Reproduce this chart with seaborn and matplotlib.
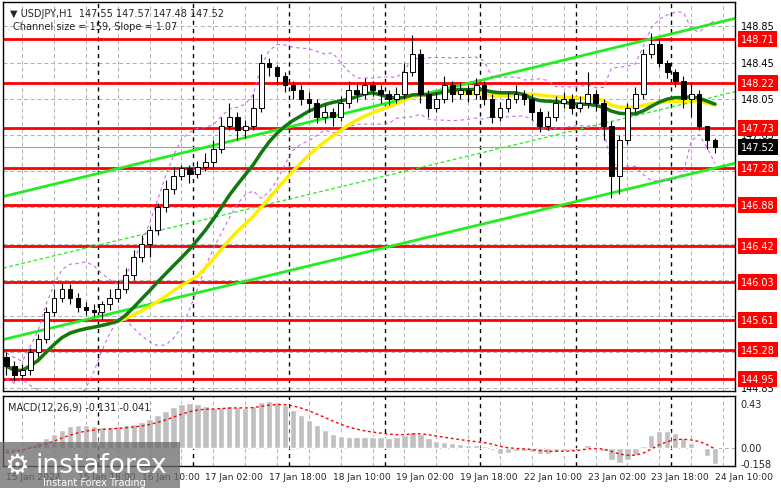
import matplotlib
matplotlib.use('Agg')
import matplotlib.pyplot as plt
import seaborn as sns
import pandas as pd
import numpy as np

# closes every 2 hours, 15 Jan 00:00 .. 24 Jan 10:00 (H1 chart read at half resolution)
closes = [145.10, 145.00, 145.05, 145.25, 145.40, 145.70, 145.85, 145.95, 145.85, 145.75,
          145.72, 145.70, 145.78, 145.85, 145.95, 146.10, 146.30, 146.45, 146.60, 146.85,
          147.05, 147.20, 147.28, 147.22, 147.30, 147.35, 147.50, 147.75, 147.85, 147.70,
          147.75, 147.95, 148.45, 148.40, 148.30, 148.20, 148.15, 148.05, 148.00, 147.85,
          147.90, 147.85, 148.00, 148.15, 148.10, 148.20, 148.15, 148.10, 148.05, 148.10,
          148.35, 148.55, 148.10, 147.95, 148.05, 148.20, 148.10, 148.15, 148.10, 148.20,
          148.05, 147.85, 147.95, 148.05, 148.10, 148.05, 147.90, 147.75, 147.85, 148.00,
          148.05, 147.95, 148.00, 148.10, 148.00, 147.75, 147.20, 147.60, 147.95, 148.10,
          148.55, 148.65, 148.45, 148.35, 148.25, 148.05, 148.10, 147.75, 147.60, 147.52]
highs = [145.25, 145.15, 145.12, 145.30, 145.45, 145.75, 145.95, 146.02, 146.00, 145.90,
         145.80, 145.78, 145.82, 145.95, 146.05, 146.18, 146.38, 146.55, 146.65, 146.90,
         147.15, 147.30, 147.32, 147.32, 147.36, 147.45, 147.60, 147.85, 148.00, 147.90,
         147.82, 148.10, 148.55, 148.50, 148.42, 148.35, 148.25, 148.20, 148.12, 148.05,
         147.98, 147.95, 148.08, 148.25, 148.22, 148.28, 148.25, 148.20, 148.15, 148.18,
         148.45, 148.76, 148.60, 148.15, 148.12, 148.30, 148.25, 148.22, 148.20, 148.28,
         148.25, 148.10, 148.02, 148.12, 148.20, 148.15, 148.10, 147.95, 147.92, 148.08,
         148.12, 148.10, 148.08, 148.35, 148.15, 148.05, 147.80, 147.65, 148.00, 148.18,
         148.60, 148.78, 148.70, 148.48, 148.38, 148.30, 148.22, 148.15, 147.70, 147.62]
lows = [145.00, 144.93, 144.95, 145.00, 145.20, 145.35, 145.65, 145.80, 145.78, 145.70,
        145.66, 145.65, 145.62, 145.72, 145.80, 145.90, 146.05, 146.25, 146.30, 146.55,
        146.80, 147.00, 147.15, 147.12, 147.18, 147.25, 147.30, 147.45, 147.70, 147.60,
        147.62, 147.70, 147.90, 148.30, 148.20, 148.12, 148.05, 147.98, 147.90, 147.78,
        147.78, 147.75, 147.80, 147.95, 148.02, 148.05, 148.08, 148.00, 147.98, 148.00,
        148.05, 148.30, 148.00, 147.85, 147.90, 148.00, 148.02, 148.05, 148.02, 148.05,
        147.98, 147.78, 147.80, 147.90, 148.00, 147.98, 147.82, 147.68, 147.70, 147.80,
        147.95, 147.88, 147.90, 147.95, 147.92, 147.60, 146.95, 147.00, 147.55, 147.90,
        148.05, 148.50, 148.40, 148.28, 148.18, 147.95, 147.85, 147.70, 147.50, 147.45]
first_open = 145.20
macd = [-0.05, -0.03, 0.00, 0.03, 0.06, 0.10, 0.14, 0.18, 0.21, 0.22,
        0.22, 0.21, 0.20, 0.20, 0.21, 0.22, 0.23, 0.25, 0.28, 0.32,
        0.36, 0.40, 0.43, 0.44, 0.43, 0.41, 0.39, 0.40, 0.41, 0.40,
        0.39, 0.41, 0.45, 0.46, 0.45, 0.42, 0.37, 0.32, 0.27, 0.22,
        0.18, 0.14, 0.12, 0.11, 0.11, 0.11, 0.11, 0.11, 0.10, 0.11,
        0.13, 0.16, 0.14, 0.10, 0.07, 0.06, 0.05, 0.04, 0.03, 0.03,
        0.02, -0.02, -0.06, -0.05, -0.03, -0.03, -0.04, -0.06, -0.06, -0.04,
        -0.03, -0.02, 0.00, 0.03, 0.01, -0.03, -0.12, -0.15, -0.12, -0.07,
        0.02, 0.13, 0.17, 0.17, 0.15, 0.10, 0.05, 0.01, -0.08, -0.158]

levels = [148.71, 148.22, 147.73, 147.28, 146.88, 146.42, 146.03, 145.61, 145.28, 144.95]
price_ticks = [148.85, 148.45, 148.05, 147.65, 147.25, 146.85, 146.45, 146.05, 145.65, 145.25, 144.85]
last_price = 147.52

# channel lines: (x start, x end), (price start, price end)
chan_x = [-0.4, 91.6]
chan_upper = [146.97, 148.94]
chan_mid = [146.18, 148.13]
chan_lower = [145.39, 147.34]

tick_pos = [0, 9, 17, 25, 33, 41, 49, 57, 65, 73, 81, 89]
tick_labels = ['15 Jan 2024', '15 Jan 18:00', '16 Jan 10:00', '17 Jan 02:00', '17 Jan 18:00',
               '18 Jan 10:00', '19 Jan 02:00', '19 Jan 18:00', '22 Jan 10:00', '23 Jan 02:00',
               '23 Jan 18:00', '24 Jan 10:00']
day_starts = [12, 24, 36, 48, 60, 72, 84]

sns.set_style("white")
plt.rcParams['font.family'] = ['DejaVu Sans']

df = pd.DataFrame({'close': closes, 'high': highs, 'low': lows})
df['open'] = [first_open] + closes[:-1]
df['i'] = np.arange(len(df))
df['ma_fast'] = df['close'].rolling(15, min_periods=1).mean()
df['ma_slow'] = df['close'].rolling(25, min_periods=1).mean()
mid = df['close'].rolling(10, min_periods=1).mean()
sd = df['close'].rolling(10, min_periods=2).std().bfill()
df['env_up'] = mid + 2 * sd
df['env_dn'] = mid - 2 * sd
df['macd'] = macd
df['signal'] = df['macd'].ewm(span=8).mean()

fig = plt.figure(figsize=(7.81, 4.89), dpi=100)
ax = fig.add_axes([0.004, 0.198, 0.937, 0.796])
axm = fig.add_axes([0.004, 0.045, 0.937, 0.143])
XMIN, XMAX = -0.4, 91.5
FS = 7.0

# grid
for t in price_ticks:
    ax.axhline(t, color='#b0b0b0', lw=0.7, ls=(0, (4, 3)), zorder=0)
for gx in range(2, 92, 4):
    for a in (ax, axm):
        a.axvline(gx, color='#b0b0b0', lw=0.7, ls=(0, (4, 3)), zorder=0)
for d in day_starts:
    for a in (ax, axm):
        a.axvline(d - 0.5, color='black', lw=1.0, ls=(0, (3, 3)), zorder=0.5)

for lv in levels:
    ax.axhline(lv, color='#ff0000', lw=2.0, zorder=1)
ax.axhline(last_price, color='#a0a0a0', lw=0.8, zorder=1)

ax.plot(chan_x, chan_upper, color='#22ee22', lw=2.0, zorder=2)
ax.plot(chan_x, chan_lower, color='#22ee22', lw=2.0, zorder=2)
ax.plot(chan_x, chan_mid, color='#22ee22', lw=0.9, ls=(0, (3, 2)), zorder=2)

sns.lineplot(data=df, x='i', y='env_up', ax=ax, color='#cc66ee', lw=0.8, ls=(0, (3, 3)), zorder=2)
sns.lineplot(data=df, x='i', y='env_dn', ax=ax, color='#cc66ee', lw=0.8, ls=(0, (3, 3)), zorder=2)
sns.lineplot(data=df, x='i', y='ma_slow', ax=ax, color='#ffee00', lw=2.5, zorder=3)
sns.lineplot(data=df, x='i', y='ma_fast', ax=ax, color='#117711', lw=2.5, zorder=3)

# candles
up = df['close'] >= df['open']
ax.vlines(df['i'], df['low'], df['high'], color='black', lw=0.8, zorder=4)
body_lo = np.minimum(df['open'], df['close'])
body_h = np.maximum(np.abs(df['close'] - df['open']), 0.012)
ax.bar(df['i'], body_h, bottom=body_lo, width=0.6,
       color=np.where(up, 'white', 'black'), edgecolor='black', lw=0.7, zorder=5)

ax.set_xlim(XMIN, XMAX)
ax.set_ylim(144.82, 149.12)
ax.set_xticks([])
ax.set_yticks([])
ax.set_xlabel('')
ax.set_ylabel('')

# right price scale (boxed level labels sit on top of the plain ticks)
ytr = ax.get_yaxis_transform()
LX = 1.008
for t in price_ticks:
    ax.text(LX, t, f'{t:.2f}', transform=ytr, fontsize=FS,
            va='center', ha='left', color='black', clip_on=False, zorder=6)
for lv in levels:
    ax.text(LX, lv, f'{lv:.2f}', transform=ytr, fontsize=FS,
            va='center', ha='left', color='white', clip_on=False, zorder=7,
            bbox=dict(boxstyle='square,pad=0.3', fc='#ff0000', ec='none'))
ax.text(LX, last_price, f'{last_price:.2f}', transform=ytr, fontsize=FS,
        va='center', ha='left', color='white', clip_on=False, zorder=7,
        bbox=dict(boxstyle='square,pad=0.3', fc='black', ec='none'))

ax.text(0.01, 0.985, '\u25bc USDJPY,H1  147.55 147.57 147.48 147.52', transform=ax.transAxes,
        fontsize=FS, va='top', ha='left')
ax.text(0.013, 0.952, 'Channel size = 159, Slope = 1.07', transform=ax.transAxes,
        fontsize=FS, va='top', ha='left')

# MACD panel
axm.bar(df['i'], df['macd'], width=0.8, color='#c0c0c0', zorder=2)
sns.lineplot(data=df, x='i', y='signal', ax=axm, color='#ff0000', lw=1.0, ls=(0, (2, 2)), zorder=3)
axm.axhline(0, color='#b0b0b0', lw=0.7, ls=(0, (4, 3)), zorder=1)
axm.set_xlim(XMIN, XMAX)
axm.set_ylim(-0.18, 0.51)
axm.set_yticks([])
axm.set_ylabel('')
axm.set_xlabel('')
axm.set_xticks(tick_pos)
axm.set_xticklabels(tick_labels, fontsize=6.6, ha='left')
axm.tick_params(axis='x', length=0, pad=4)
for v, s in [(0.43, '0.43'), (0.0, '0.00'), (-0.158, '-0.158')]:
    axm.text(LX, v, s, transform=axm.get_yaxis_transform(), fontsize=FS,
             va='center', ha='left', clip_on=False)
axm.text(0.006, 0.92, 'MACD(12,26,9) -0.131 -0.041', transform=axm.transAxes,
         fontsize=FS, va='top', ha='left')

for a in (ax, axm):
    for sp in a.spines.values():
        sp.set_color('black')
        sp.set_linewidth(1.0)

# watermark logo
fig.patches.append(plt.Rectangle((0, 0), 0.23, 0.094, transform=fig.transFigure,
                                 fc='#6a6a6a', alpha=0.75, ec='none', zorder=10))
fig.text(0.045, 0.047, 'instaforex', fontsize=19, color='white', va='center', ha='left', zorder=11)
fig.text(0.055, 0.012, 'Instant Forex Trading', fontsize=7, color='white', va='center', ha='left', zorder=11)
fig.text(0.022, 0.047, '\u2699', fontsize=20, color='white', va='center', ha='center', zorder=11)

fig.savefig('out.png', dpi=100)
